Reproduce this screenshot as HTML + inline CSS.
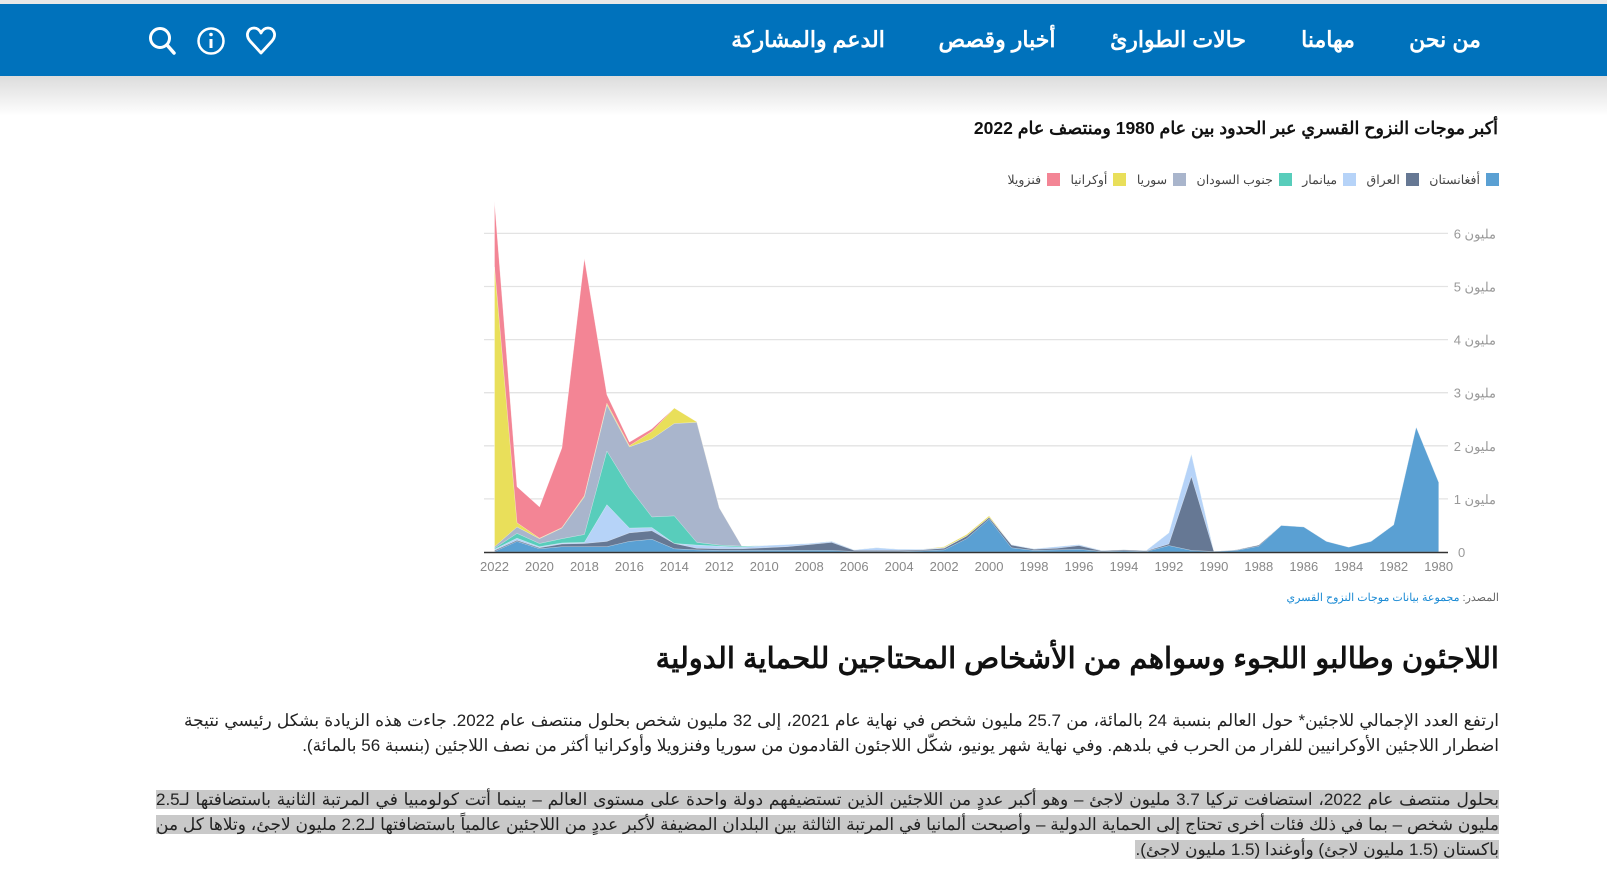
<!DOCTYPE html>
<html><head><meta charset="utf-8"><style>
body{margin:0;width:1607px;height:890px;overflow:hidden;background:#fff;font-family:"Liberation Sans","Noto Sans CJK SC",sans-serif;position:relative}
.topline{position:absolute;left:0;top:0;width:1607px;height:4px;background:#e8e8e8}
.nav{position:absolute;left:0;top:4px;width:1607px;height:72px;background:#0072bc}
.shade{position:absolute;left:0;top:76px;width:1607px;height:40px;background:linear-gradient(#dcdcdc,#fff)}
.ni{position:absolute;top:27px;color:#fff;font-size:22px;font-weight:bold;white-space:nowrap;transform:translateX(-50%)}
.t{position:absolute;direction:rtl;white-space:nowrap}
p.par{position:absolute;direction:rtl;margin:0;color:#222;font-size:17px;line-height:25px;text-align:justify}
.hl{background:#c9c9c9}
.lg{display:inline-block;width:13px;height:13px;vertical-align:-2px;margin-left:6px}
</style></head><body>
<div class="topline"></div>
<div class="nav"></div>
<div class="shade"></div>
<div class="ni" style="left:1445px">من نحن</div>
<div class="ni" style="left:1328px">مهامنا</div>
<div class="ni" style="left:1178px">حالات الطوارئ</div>
<div class="ni" style="left:997px">أخبار وقصص</div>
<div class="ni" style="left:808px">الدعم والمشاركة</div>
<svg style="position:absolute;left:0;top:0" width="300" height="80">
<circle cx="160" cy="38" r="9.5" fill="none" stroke="#fff" stroke-width="3"/><line x1="167" y1="45" x2="174" y2="53" stroke="#fff" stroke-width="3.5" stroke-linecap="round"/>
<circle cx="211" cy="41" r="12.5" fill="none" stroke="#fff" stroke-width="2.5"/><rect x="209.5" y="39" width="3" height="9" fill="#fff"/><circle cx="211" cy="34.5" r="1.8" fill="#fff"/>
<path d="M261 53 L250 41 C245 35 248 28 254 28 C258 28 260 31 261 33 C262 31 264 28 268 28 C274 28 277 35 272 41 Z" fill="none" stroke="#fff" stroke-width="2.8" stroke-linejoin="round"/>
</svg>
<div class="t" style="right:109px;top:118px;font-size:17.5px;font-weight:bold;color:#111">أكبر موجات النزوح القسري عبر الحدود بين عام 1980 ومنتصف عام 2022</div>
<div class="t" style="right:108px;top:172px;font-size:12.5px;color:#444">
<span class="lg" style="background:#5aa0d3"></span>أفغانستان&nbsp;&nbsp;
<span class="lg" style="background:#667894"></span>العراق&nbsp;&nbsp;
<span class="lg" style="background:#b6d3f8"></span>ميانمار&nbsp;&nbsp;
<span class="lg" style="background:#58cdbb"></span>جنوب السودان&nbsp;&nbsp;
<span class="lg" style="background:#a9b5cc"></span>سوريا&nbsp;&nbsp;
<span class="lg" style="background:#e9df5a"></span>أوكرانيا&nbsp;&nbsp;
<span class="lg" style="background:#f38595"></span>فنزويلا</div>
<svg id="ch" style="position:absolute;left:0;top:0" width="1607" height="600"></svg>
<div class="t" style="right:108px;top:591px;font-size:11px;color:#666">المصدر: <span style="color:#1a8ad4">مجموعة بيانات موجات النزوح القسري</span></div>
<div class="t" style="right:108px;top:641px;font-size:29px;font-weight:bold;color:#111">اللاجئون وطالبو اللجوء وسواهم من الأشخاص المحتاجين للحماية الدولية</div>
<p class="par" style="right:108px;width:1315px;top:708px">ارتفع العدد الإجمالي للاجئين* حول العالم بنسبة 24 بالمائة، من 25.7 مليون شخص في نهاية عام 2021، إلى 32 مليون شخص بحلول منتصف عام 2022. جاءت هذه الزيادة بشكل رئيسي نتيجة اضطرار اللاجئين الأوكرانيين للفرار من الحرب في بلدهم. وفي نهاية شهر يونيو، شكّل اللاجئون القادمون من سوريا وفنزويلا وأوكرانيا أكثر من نصف اللاجئين (بنسبة 56 بالمائة).</p>
<p class="par" style="right:108px;width:1343px;top:787px"><span class="hl">بحلول منتصف عام 2022، استضافت تركيا 3.7 مليون لاجئ – وهو أكبر عددٍ من اللاجئين الذين تستضيفهم دولة واحدة على مستوى العالم – بينما أتت كولومبيا في المرتبة الثانية باستضافتها لـ2.5 مليون شخص – بما في ذلك فئات أخرى تحتاج إلى الحماية الدولية – وأصبحت ألمانيا في المرتبة الثالثة بين البلدان المضيفة لأكبر عددٍ من اللاجئين عالمياً باستضافتها لـ2.2 مليون لاجئ، وتلاها كل من باكستان (1.5 مليون لاجئ) وأوغندا (1.5 مليون لاجئ).</span></p>
<script>
var D={2022:[.01,.03,.05,.07,.10,5.37,6.6],2021:[.2,.22,.26,.35,.47,.55,1.23],2020:[.06,.08,.1,.16,.25,.26,.85],2019:[.1,.15,.17,.25,.45,.46,1.96],2018:[.1,.16,.18,.33,1.04,1.06,5.53],2017:[.1,.2,.89,1.9,2.77,2.8,2.96],2016:[.2,.36,.45,1.21,1.98,2.0,2.07],2015:[.24,.4,.46,.66,2.13,2.27,2.32],2014:[.06,.16,.16,.68,2.42,2.71,2.71],2013:[.04,.07,.13,.18,2.44,2.45,2.45],2012:[.03,.06,.11,.13,.83],2011:[.03,.06,.09,.11],2010:[.03,.08,.12],2009:[.03,.1,.14],2008:[.03,.14,.16],2007:[.03,.18,.2],2006:[.01,.03,.04],2005:[.01,.03,.08],2004:[.01,.03,.05],2003:[.02,.04,.05],2002:[.04,.07,.08,.08,.08,.1],2001:[.25,.3,.3,.3,.3,.33],2000:[.62,.65,.65,.65,.65,.68],1999:[.08,.13,.14],1998:[.03,.05,.06],1997:[.04,.07,.1],1996:[.05,.12,.14],1995:[.01,.02,.03],1994:[.02,.04,.04],1993:[.01,.02,.03],1992:[.12,.15,.36],1991:[.03,1.42,1.84],1990:[.01,.01,.01],1989:[.03,.04],1988:[.11,.13],1987:[.5],1986:[.47],1985:[.2],1984:[.09],1983:[.2],1982:[.51],1981:[2.35],1980:[1.31]};
var C=["#5aa0d3","#667894","#b6d3f8","#58cdbb","#a9b5cc","#e9df5a","#f38595"];
function X(y){return 494.5+(2022-y)*22.48}function Y(v){return 552-53.1*v}
var s='';
for(var g=1;g<=6;g++){s+='<line x1="484" x2="1448" y1="'+Y(g)+'" y2="'+Y(g)+'" stroke="#e3e3e3" stroke-width="1.3"/>';
s+='<text x="1496" y="'+(Y(g)+5)+'" text-anchor="end" font-size="13" fill="#999" font-family="Liberation Sans,Noto Sans CJK SC,sans-serif">'+g+' مليون</text>';}
s+='<text x="1458" y="557" font-size="13" fill="#999" font-family="Liberation Sans,sans-serif">0</text>';
for(var k=6;k>=0;k--){var p='M'+X(2022)+' 552';for(var yr=2022;yr>=1980;yr--){var a=D[yr];var v=a[Math.min(k,a.length-1)];p+=' L'+X(yr).toFixed(1)+' '+Y(v).toFixed(1);}p+=' L'+X(1980)+' 552 Z';s+='<path d="'+p+'" fill="'+C[k]+'" stroke="#fff" stroke-width="0.5" stroke-opacity="0.6"/>';}
s+='<line x1="484" x2="1448" y1="552.5" y2="552.5" stroke="#333" stroke-width="1.5"/>';
for(var yr=2022;yr>=1980;yr-=2)s+='<text x="'+X(yr)+'" y="571" text-anchor="middle" font-size="13" fill="#888" font-family="Liberation Sans,sans-serif">'+yr+'</text>';
document.getElementById('ch').innerHTML=s;
</script>
</body></html>
